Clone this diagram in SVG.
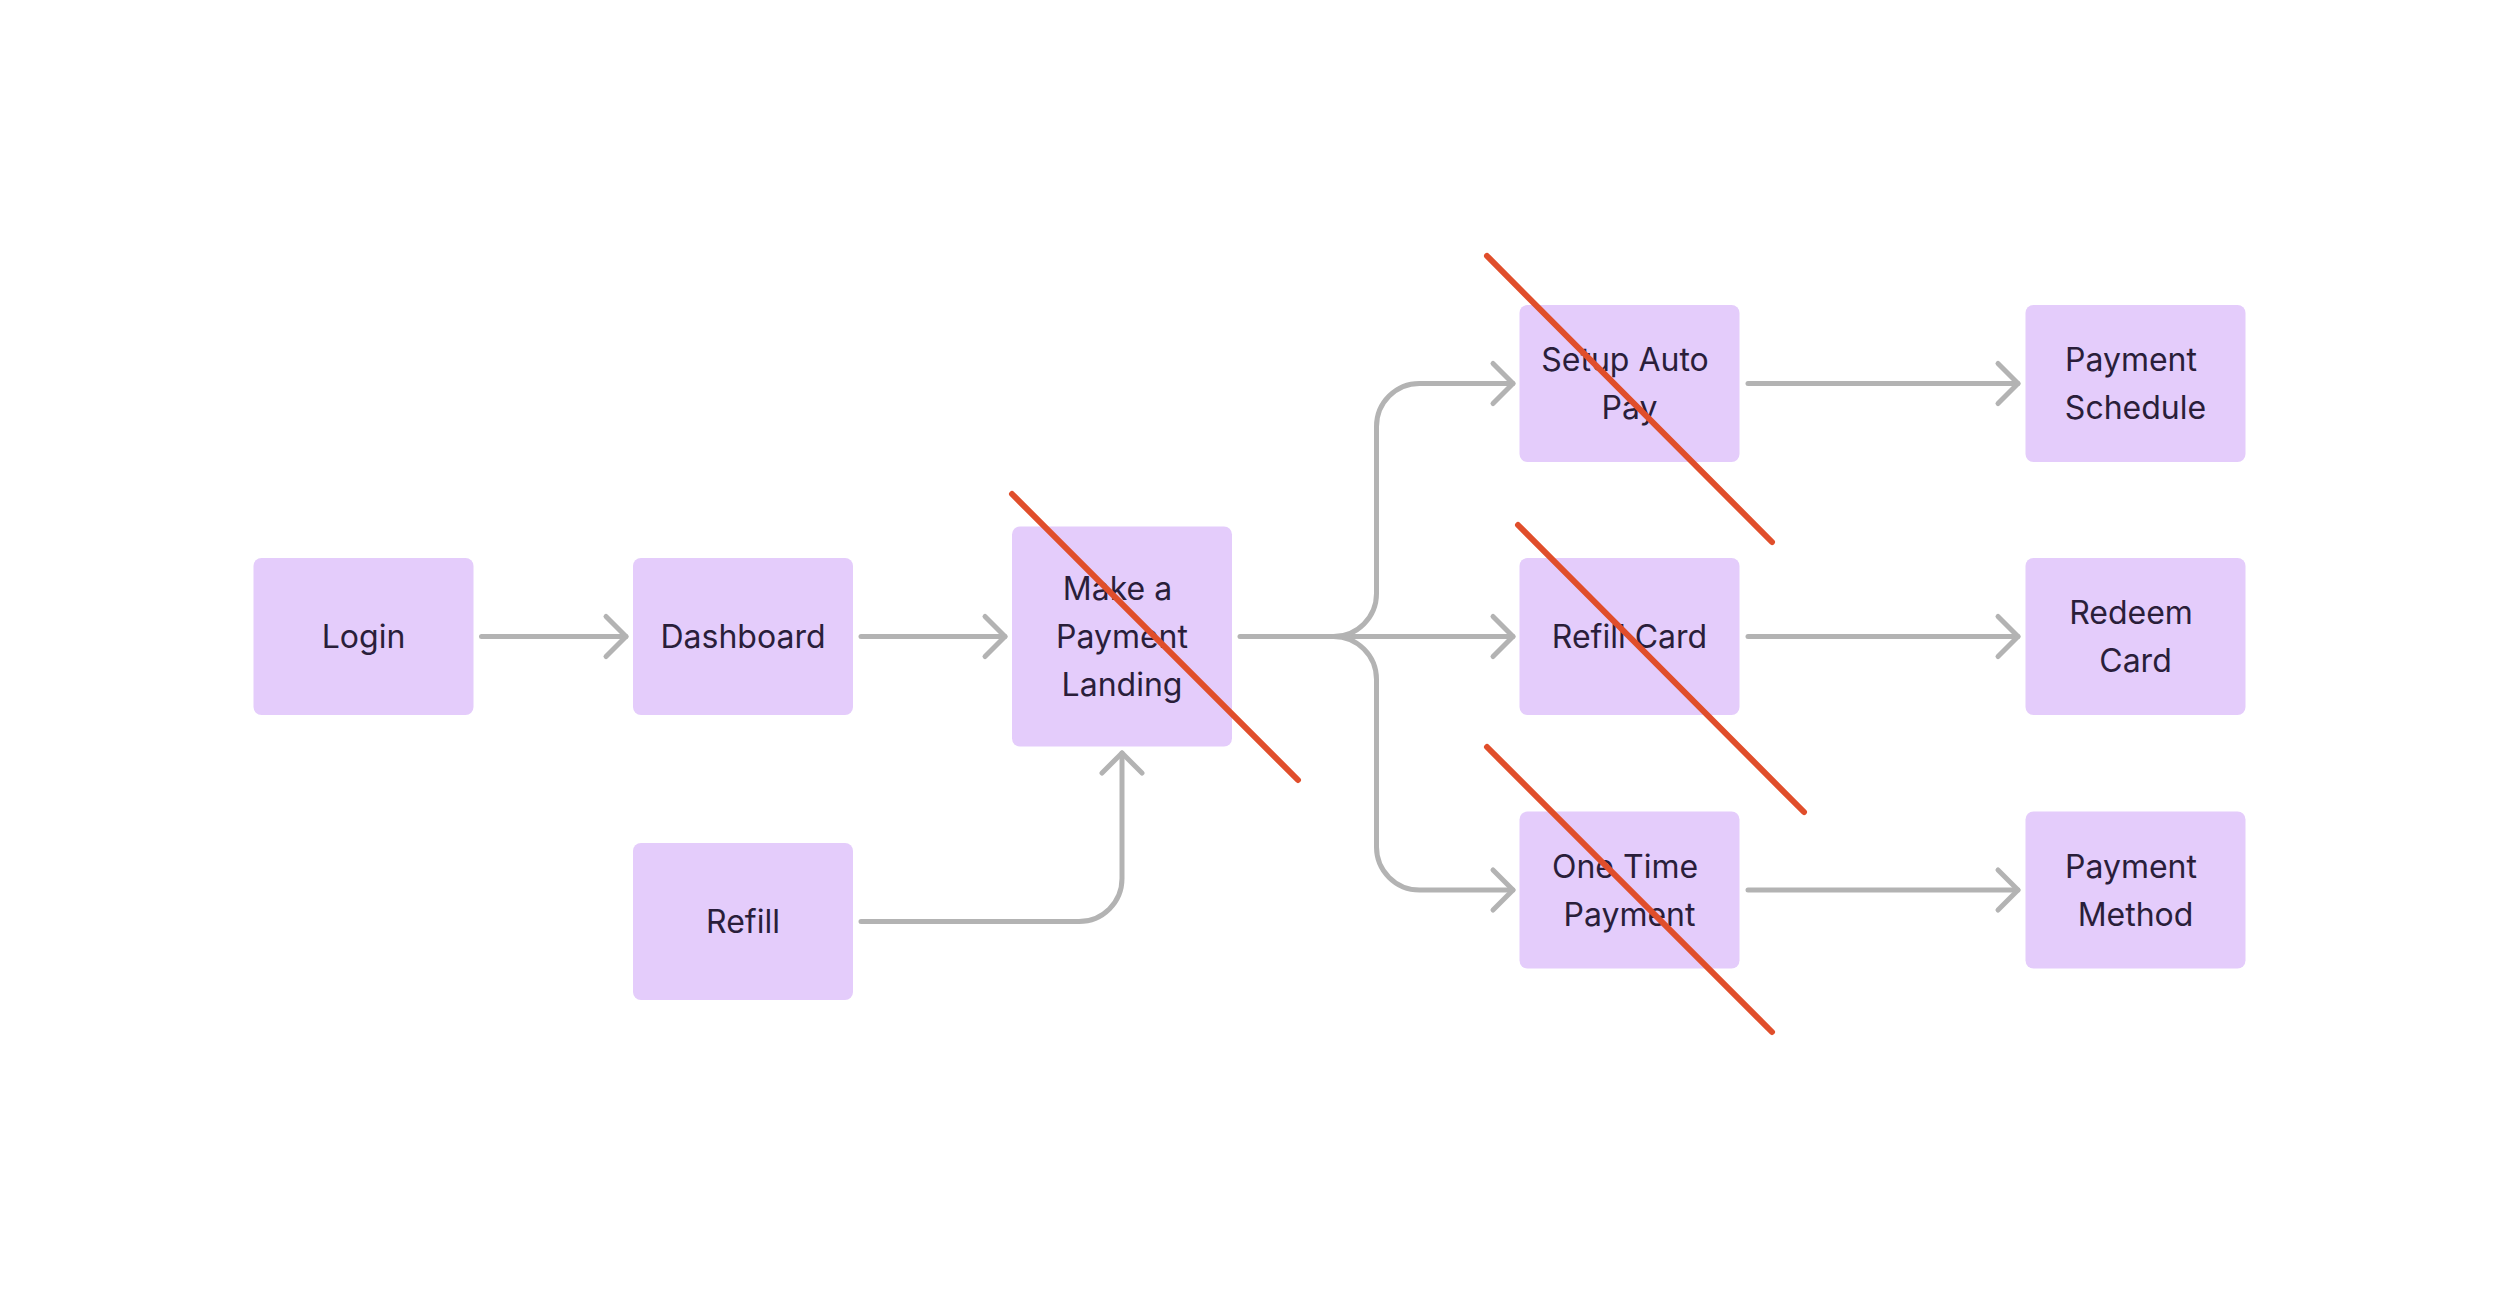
<svg xmlns="http://www.w3.org/2000/svg" width="2500" height="1289" viewBox="0 0 2500 1289">
<defs>
<style>
.box{fill:#E4CCFB;}
.lbl{font-family:Inter,"Noto Sans","Liberation Sans",sans-serif;font-size:32px;fill:#2A1E3A;text-anchor:middle;}
.conn{fill:none;stroke:#B3B3B3;stroke-width:5;stroke-linecap:round;stroke-linejoin:round;}
.cross{stroke:#E04E2B;stroke-width:6;stroke-linecap:round;}
</style>
<marker id="arr" viewBox="-24 -24 28 48" refX="0" refY="0" markerWidth="28" markerHeight="48" markerUnits="userSpaceOnUse" orient="auto" overflow="visible">
<path d="M-20,-20 L0,0 L-20,20" fill="none" stroke="#B3B3B3" stroke-width="5" stroke-linecap="round" stroke-linejoin="round"/>
</marker>
</defs>
<rect width="2500" height="1289" fill="#FFFFFF"/>
<g id="connectors">
<path class="conn" d="M481.5,636.5 H626" marker-end="url(#arr)"/>
<path class="conn" d="M861,636.5 H1005" marker-end="url(#arr)"/>
<path class="conn" d="M861,921.5 H1079 A43,43 0 0 0 1122,878.5 V753" marker-end="url(#arr)"/>
<path class="conn" d="M1240,636.5 H1513" marker-end="url(#arr)"/>
<path class="conn" d="M1333.5,636.5 A43,43 0 0 0 1376.5,593.5 V426.5 A43,43 0 0 1 1419.5,383.5 H1513" marker-end="url(#arr)"/>
<path class="conn" d="M1333.5,636.5 A43,43 0 0 1 1376.5,679.5 V847 A43,43 0 0 0 1419.5,890 H1513" marker-end="url(#arr)"/>
<path class="conn" d="M1748,383.5 H2018" marker-end="url(#arr)"/>
<path class="conn" d="M1748,636.5 H2018" marker-end="url(#arr)"/>
<path class="conn" d="M1748,890 H2018" marker-end="url(#arr)"/>
</g>
<g id="login"><rect class="box" x="253.5" y="558" width="220" height="157" rx="8"/><text class="lbl" x="363.5" y="648">Login</text></g>
<g id="dashboard"><rect class="box" x="633" y="558" width="220" height="157" rx="8"/><text class="lbl" x="743" y="648">Dashboard</text></g>
<g id="refill"><rect class="box" x="633" y="843" width="220" height="157" rx="8"/><text class="lbl" x="743" y="933">Refill</text></g>
<g id="make-payment"><rect class="box" x="1012" y="526.5" width="220" height="220" rx="8"/><text class="lbl" x="1117.5" y="600">Make a</text><text class="lbl" x="1122" y="648">Payment</text><text class="lbl" x="1122" y="696">Landing</text></g>
<g id="setup-auto-pay"><rect class="box" x="1519.5" y="305" width="220" height="157" rx="8"/><text class="lbl" x="1625" y="371">Setup Auto</text><text class="lbl" x="1629.5" y="419">Pay</text></g>
<g id="refill-card"><rect class="box" x="1519.5" y="558" width="220" height="157" rx="8"/><text class="lbl" x="1629.5" y="648">Refill Card</text></g>
<g id="one-time-payment"><rect class="box" x="1519.5" y="811.5" width="220" height="157" rx="8"/><text class="lbl" x="1625" y="877.5">One Time</text><text class="lbl" x="1629.5" y="925.5">Payment</text></g>
<g id="payment-schedule"><rect class="box" x="2025.5" y="305" width="220" height="157" rx="8"/><text class="lbl" x="2131" y="371">Payment</text><text class="lbl" x="2135.5" y="419">Schedule</text></g>
<g id="redeem-card"><rect class="box" x="2025.5" y="558" width="220" height="157" rx="8"/><text class="lbl" x="2131" y="624">Redeem</text><text class="lbl" x="2135.5" y="672">Card</text></g>
<g id="payment-method"><rect class="box" x="2025.5" y="811.5" width="220" height="157" rx="8"/><text class="lbl" x="2131" y="877.5">Payment</text><text class="lbl" x="2135.5" y="925.5">Method</text></g>
<g id="strike-marks">
<line class="cross" x1="1012" y1="494" x2="1298" y2="780"/>
<line class="cross" x1="1487" y1="256" x2="1772" y2="542"/>
<line class="cross" x1="1518" y1="525" x2="1804" y2="812"/>
<line class="cross" x1="1487" y1="747" x2="1772" y2="1032"/>
</g>
</svg>
